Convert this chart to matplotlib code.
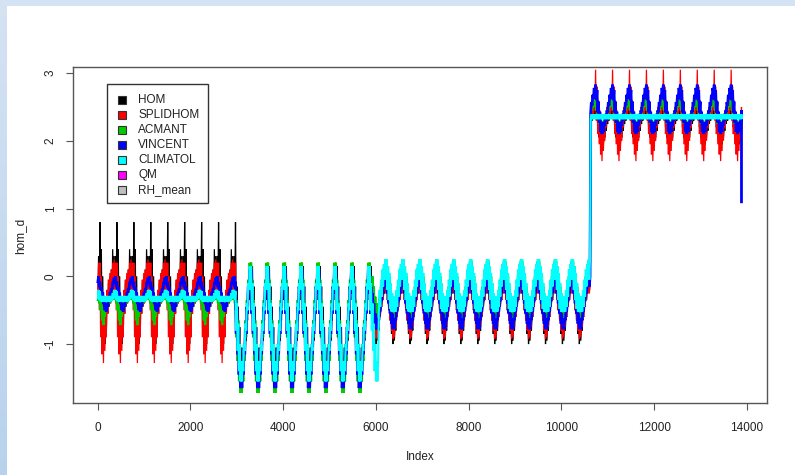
import numpy as np
import pandas as pd
import matplotlib
matplotlib.use("Agg")
import matplotlib.pyplot as plt
from matplotlib.patches import Rectangle

plt.rcParams["font.family"] = ["Liberation Sans", "DejaVu Sans"]

# ---------------------------------------------------------------- data
N_DAYS = 13880
START_DATE = "1970-01-01"

SERIES = ["HOM", "SPLIDHOM", "ACMANT", "VINCENT", "CLIMATOL", "QM", "RH_mean"]
COLORS = ["#000000", "#FF0000", "#00CD00", "#0000FF", "#00FFFF", "#FF00FF", "#BEBEBE"]

# day index where each regime starts (after the first one)
BREAKS = [2970, 5890, 10605]
CLIMATOL_BREAKS = [2970, 6040, 10605]

# monthly low / high envelope (Jan..Dec) for each of the four regimes
HOM_LO = [
    [-0.30, -0.20, -0.50, -0.80, -0.95, -1.00, -0.85, -0.55, -0.45, -0.40, -0.35, -0.30],
    [-0.15, -0.35, -0.65, -0.95, -1.25, -1.55, -1.68, -1.55, -1.25, -0.95, -0.65, -0.35],
    [-0.25, -0.35, -0.50, -0.65, -0.85, -1.00, -0.95, -0.80, -0.60, -0.45, -0.35, -0.25],
    [2.15, 2.25, 2.30, 2.35, 2.40, 2.35, 2.20, 2.05, 1.95, 1.88, 1.95, 2.05],
]
HOM_HI = [
    [0.30, 0.80, 0.40, 0.00, -0.30, -0.50, -0.30, -0.10, 0.00, 0.10, 0.40, 0.30],
    [0.20, 0.15, -0.15, -0.45, -0.75, -1.05, -1.25, -1.05, -0.75, -0.45, -0.15, 0.10],
    [-0.10, -0.20, -0.30, -0.45, -0.60, -0.75, -0.70, -0.55, -0.40, -0.30, -0.20, -0.10],
    [2.30, 2.40, 2.45, 2.50, 2.55, 2.50, 2.40, 2.25, 2.10, 2.00, 2.10, 2.20],
]
SPLIDHOM_LO = [
    [-0.30, -0.50, -0.90, -1.15, -1.28, -1.10, -0.90, -0.55, -0.40, -0.40, -0.35, -0.30],
    [-0.25, -0.55, -0.85, -1.15, -1.45, -1.65, -1.65, -1.45, -1.15, -0.85, -0.55, -0.25],
    [-0.25, -0.35, -0.50, -0.65, -0.80, -0.92, -0.90, -0.75, -0.60, -0.45, -0.35, -0.25],
    [2.20, 2.30, 2.35, 2.40, 2.45, 2.30, 2.10, 1.95, 1.80, 1.70, 1.85, 2.00],
]
SPLIDHOM_HI = [
    [0.20, 0.20, 0.00, -0.30, -0.50, -0.40, -0.20, -0.05, 0.05, 0.10, 0.20, 0.25],
    [0.10, -0.10, -0.40, -0.70, -1.00, -1.25, -1.25, -1.00, -0.70, -0.40, -0.10, 0.10],
    [-0.10, -0.20, -0.30, -0.45, -0.60, -0.70, -0.65, -0.50, -0.40, -0.30, -0.20, -0.10],
    [2.50, 2.55, 2.65, 2.75, 3.05, 2.80, 2.60, 2.45, 2.30, 2.20, 2.30, 2.40],
]
ACMANT_LO = [
    [-0.35, -0.40, -0.50, -0.65, -0.72, -0.60, -0.45, -0.40, -0.40, -0.38, -0.35, -0.30],
    [-0.25, -0.55, -0.90, -1.25, -1.55, -1.72, -1.72, -1.55, -1.25, -0.90, -0.55, -0.25],
    [-0.05, -0.20, -0.35, -0.50, -0.62, -0.68, -0.68, -0.62, -0.50, -0.35, -0.20, -0.05],
    [2.35, 2.40, 2.45, 2.50, 2.55, 2.45, 2.35, 2.25, 2.20, 2.15, 2.20, 2.30],
]
ACMANT_HI = [
    [-0.25, -0.30, -0.35, -0.45, -0.55, -0.45, -0.35, -0.30, -0.30, -0.30, -0.25, -0.20],
    [0.20, -0.05, -0.35, -0.65, -1.00, -1.30, -1.30, -1.00, -0.65, -0.35, -0.05, 0.20],
    [0.22, 0.15, 0.00, -0.15, -0.30, -0.40, -0.40, -0.30, -0.15, 0.00, 0.12, 0.22],
    [2.45, 2.50, 2.55, 2.60, 2.65, 2.55, 2.45, 2.35, 2.30, 2.25, 2.30, 2.40],
]
VINCENT_LO = [
    [-0.08, -0.16, -0.25, -0.33, -0.41, -0.50, -0.52, -0.45, -0.37, -0.28, -0.20, -0.10],
    [-0.25, -0.55, -0.85, -1.15, -1.45, -1.65, -1.65, -1.45, -1.15, -0.85, -0.55, -0.25],
    [-0.15, -0.25, -0.40, -0.55, -0.70, -0.78, -0.78, -0.65, -0.50, -0.35, -0.25, -0.15],
    [2.30, 2.42, 2.52, 2.62, 2.72, 2.60, 2.42, 2.27, 2.13, 2.10, 2.13, 2.22],
]
VINCENT_HI = [
    [0.00, -0.08, -0.16, -0.24, -0.32, -0.40, -0.42, -0.35, -0.27, -0.18, -0.10, -0.02],
    [0.10, -0.15, -0.45, -0.75, -1.05, -1.35, -1.35, -1.05, -0.75, -0.45, -0.15, 0.10],
    [0.00, -0.10, -0.25, -0.40, -0.55, -0.65, -0.62, -0.50, -0.35, -0.20, -0.10, 0.00],
    [2.45, 2.57, 2.68, 2.78, 2.83, 2.75, 2.58, 2.43, 2.28, 2.20, 2.28, 2.38],
]
CLIMATOL_LO = [
    [-0.32, -0.35, -0.37, -0.37, -0.37, -0.37, -0.37, -0.37, -0.37, -0.37, -0.36, -0.33],
    [-0.20, -0.50, -0.80, -1.10, -1.40, -1.55, -1.55, -1.40, -1.10, -0.80, -0.50, -0.20],
    [-0.05, -0.20, -0.35, -0.48, -0.52, -0.52, -0.52, -0.52, -0.45, -0.30, -0.15, -0.05],
    [2.32, 2.32, 2.32, 2.32, 2.32, 2.32, 2.32, 2.32, 2.32, 2.32, 2.32, 2.32],
]
CLIMATOL_HI = [
    [-0.20, -0.22, -0.29, -0.29, -0.29, -0.29, -0.29, -0.29, -0.29, -0.29, -0.25, -0.20],
    [0.15, -0.10, -0.40, -0.70, -1.00, -1.25, -1.25, -1.00, -0.70, -0.40, -0.10, 0.15],
    [0.25, 0.15, 0.05, -0.10, -0.25, -0.30, -0.30, -0.20, -0.05, 0.10, 0.18, 0.25],
    [2.39, 2.39, 2.39, 2.39, 2.39, 2.39, 2.39, 2.39, 2.39, 2.39, 2.39, 2.39],
]
# value on the last day of the record
END_VALUES = [2.10, 1.75, 2.20, 1.10, 2.35]

X_TICKS = [0, 2000, 4000, 6000, 8000, 10000, 12000, 14000]
Y_TICKS = [-1, 0, 1, 2, 3]

# ---------------------------------------------------------------- months
dates = pd.date_range(START_DATE, periods=N_DAYS, freq="D")
day_index = np.arange(1, N_DAYS + 1)
month_key = np.asarray(dates.year * 12 + dates.month - 1)
is_first = np.r_[True, month_key[1:] != month_key[:-1]]
is_last = np.r_[month_key[1:] != month_key[:-1], True]
m_first = day_index[is_first]
m_last = day_index[is_last]
m_num = np.asarray(dates.month[is_first]) - 1


def monthly_track(lo, hi, breaks, end_value):
    xs, ys = [], []
    for a, b, mon in zip(m_first, m_last, m_num):
        seg = int(np.searchsorted(breaks, a, side="right"))
        xs += [a + 0.25 * (b - a), a + 0.75 * (b - a)]
        ys += [lo[seg][mon], hi[seg][mon]]
    xs.append(N_DAYS)
    ys.append(end_value)
    return xs, ys


tracks = [
    (HOM_LO, HOM_HI, BREAKS, 0.9),
    (SPLIDHOM_LO, SPLIDHOM_HI, BREAKS, 0.9),
    (ACMANT_LO, ACMANT_HI, BREAKS, 1.6),
    (VINCENT_LO, VINCENT_HI, BREAKS, 2.0),
    (CLIMATOL_LO, CLIMATOL_HI, CLIMATOL_BREAKS, 1.5),
]

# ---------------------------------------------------------------- figure
W, H = 795, 475
fig = plt.figure(figsize=(W / 100, H / 100), dpi=100)
fig.patch.set_facecolor("white")


def fx(x):
    return x / W


def fy(y):
    return 1 - y / H


# window frame: top strip and shaded left strip
top = fig.add_axes([0, fy(6), 1, 6 / H])
top.set_axis_off()
top.add_patch(Rectangle((0, 0), 1, 1, transform=top.transAxes, color="#d4e3f3"))
left = fig.add_axes([0, 0, fx(7), 1])
left.set_axis_off()
grad = np.linspace(0, 1, 256)[:, None]
c_top = np.array([0.835, 0.890, 0.953])
c_bot = np.array([0.722, 0.824, 0.929])
img = (c_top[None, None, :] * (1 - grad[:, :, None]) + c_bot[None, None, :] * grad[:, :, None])
left.imshow(img, aspect="auto", extent=[0, 1, 0, 1])

ax_l, ax_r, ax_t, ax_b = 72.5, 767, 67, 403
ax = fig.add_axes([fx(ax_l), fy(ax_b), (ax_r - ax_l) / W, (ax_b - ax_t) / H])
ax.set_facecolor("white")

for (lo, hi, brk, lw), color, endv in zip(tracks, COLORS[:5], END_VALUES):
    xs, ys = monthly_track(lo, hi, brk, endv)
    ax.plot(xs, ys, color=color, lw=lw, solid_joinstyle="miter")

ax.set_xlim(-539, 14430)
ax.set_ylim(-1.87, 3.09)
ax.set_xticks(X_TICKS)
ax.set_xticklabels([str(v) for v in X_TICKS])
ax.set_yticks(Y_TICKS)
ax.set_yticklabels([str(v) for v in Y_TICKS])

axis_col = "#555555"
for sp in ax.spines.values():
    sp.set_color(axis_col)
    sp.set_linewidth(1.0)
ax.tick_params(axis="both", direction="out", length=5.0, width=0.8,
               color=axis_col, labelsize=8.5, labelcolor="#222222")
ax.tick_params(axis="x", pad=9)
ax.tick_params(axis="y", pad=6.4)
for lab in ax.get_yticklabels():
    lab.set_rotation(90)
    lab.set_va("center")
    lab.set_ha("right")

fig.text(fx(420), fy(457), "Index", ha="center", va="center", fontsize=8.5, color="#222222")
fig.text(fx(20), fy(236), "hom_d", ha="center", va="center", rotation=90,
         fontsize=8.5, color="#222222")

# legend box
lg_l, lg_r, lg_t, lg_b = 106.7, 207.7, 84, 203.3
fig.patches.append(Rectangle((fx(lg_l), fy(lg_b)), (lg_r - lg_l) / W, (lg_b - lg_t) / H,
                             transform=fig.transFigure, facecolor="white",
                             edgecolor="#333333", lw=1.0, zorder=5))
sq = 8.0
for i, (name, color) in enumerate(zip(SERIES, COLORS)):
    yc = 100 + 15 * i
    fig.patches.append(Rectangle((fx(121.7 - sq / 2), fy(yc + sq / 2)), sq / W, sq / H,
                                 transform=fig.transFigure, facecolor=color,
                                 edgecolor="#333333", lw=0.8, zorder=6))
    fig.text(fx(138.3), fy(yc), name, ha="left", va="center", fontsize=8.5,
             color="#222222", zorder=7)

fig.savefig("out.png", dpi=100, facecolor=fig.get_facecolor())
